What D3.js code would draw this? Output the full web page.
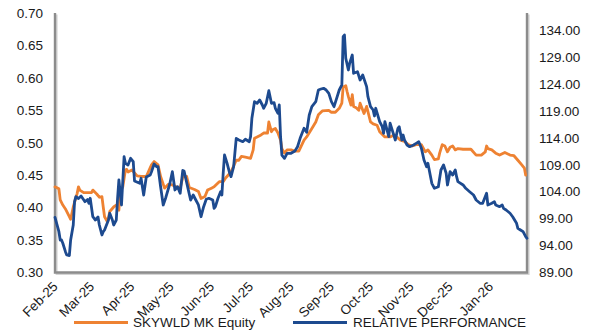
<!DOCTYPE html>
<html>
<head>
<meta charset="utf-8">
<script src="https://cdn.jsdelivr.net/npm/d3@7"></script>
<style>
  html, body { margin: 0; padding: 0; background: #fff; }
  svg { display: block; font-family: "Liberation Sans", Arial, sans-serif; }
</style>
</head>
<body>
<svg id="chart" width="596" height="333"></svg>
<script>
// SKYWLD MK Equity closing price (left axis, RM)
const skywldDates = [
  "2025-02-01","2025-02-04","2025-02-05","2025-02-07","2025-02-09","2025-02-12","2025-02-13","2025-02-15","2025-02-18","2025-02-19","2025-02-20","2025-02-23",
  "2025-03-01","2025-03-02","2025-03-05","2025-03-07","2025-03-09","2025-03-10","2025-03-11","2025-03-13","2025-03-14","2025-03-15","2025-03-18","2025-03-20","2025-03-22","2025-03-23","2025-03-25","2025-03-27","2025-03-28","2025-03-29",
  "2025-04-01","2025-04-05","2025-04-08","2025-04-12","2025-04-16","2025-04-18","2025-04-21","2025-04-23","2025-04-26","2025-04-29",
  "2025-05-02","2025-05-05","2025-05-08","2025-05-10","2025-05-13","2025-05-15","2025-05-19","2025-05-22","2025-05-24","2025-05-27","2025-05-29",
  "2025-06-01","2025-06-03","2025-06-07","2025-06-10","2025-06-12","2025-06-16","2025-06-20","2025-06-22","2025-06-24","2025-06-27",
  "2025-07-01","2025-07-03","2025-07-04","2025-07-06","2025-07-09","2025-07-11","2025-07-14","2025-07-15","2025-07-17","2025-07-18","2025-07-20","2025-07-22","2025-07-24","2025-07-25","2025-07-27","2025-07-29",
  "2025-08-01","2025-08-04","2025-08-07","2025-08-11","2025-08-13","2025-08-17","2025-08-20","2025-08-22","2025-08-25","2025-08-30",
  "2025-09-01","2025-09-04","2025-09-07","2025-09-09","2025-09-10","2025-09-12","2025-09-13","2025-09-14","2025-09-16","2025-09-17","2025-09-18","2025-09-20","2025-09-22","2025-09-23","2025-09-26","2025-09-28",
  "2025-10-01","2025-10-03","2025-10-06","2025-10-08","2025-10-12","2025-10-16","2025-10-19","2025-10-21","2025-10-24","2025-10-27","2025-10-30",
  "2025-11-02","2025-11-05","2025-11-09","2025-11-12","2025-11-14","2025-11-17","2025-11-19","2025-11-22","2025-11-23","2025-11-25","2025-11-27","2025-11-29",
  "2025-12-01","2025-12-03","2025-12-05","2025-12-07","2025-12-11","2025-12-17","2025-12-21","2025-12-25","2025-12-28","2025-12-29","2025-12-30",
  "2026-01-02","2026-01-05","2026-01-08","2026-01-12","2026-01-16","2026-01-19","2026-01-22","2026-01-25","2026-01-27","2026-01-28"
];
const skywldPrice = [
  0.432,0.429,0.412,0.404,0.398,0.386,0.382,0.401,0.422,0.432,0.427,0.423,
  0.423,0.427,0.421,0.416,0.417,0.401,0.386,0.379,0.384,0.394,0.401,0.404,0.396,0.425,0.432,0.458,0.459,0.455,
  0.458,0.449,0.448,0.448,0.466,0.471,0.466,0.448,0.430,0.436,
  0.435,0.432,0.430,0.447,0.448,0.431,0.428,0.425,0.414,0.417,0.427,
  0.430,0.432,0.440,0.440,0.446,0.455,0.473,0.473,0.479,0.478,
  0.476,0.489,0.507,0.509,0.512,0.515,0.515,0.532,0.517,0.520,0.522,0.515,0.504,0.491,0.484,0.489,
  0.489,0.487,0.487,0.504,0.509,0.522,0.532,0.543,0.549,0.550,
  0.547,0.547,0.553,0.561,0.586,0.588,0.579,0.571,0.558,0.574,0.556,0.554,0.550,0.561,0.545,0.556,
  0.532,0.529,0.527,0.517,0.509,0.509,0.512,0.509,0.504,0.502,0.497,
  0.495,0.497,0.497,0.486,0.489,0.481,0.474,0.475,0.484,0.497,0.495,0.486,
  0.493,0.495,0.489,0.491,0.490,0.490,0.481,0.481,0.486,0.495,0.491,
  0.489,0.484,0.481,0.485,0.481,0.480,0.473,0.466,0.461,0.450
];

// Relative performance index (right axis)
const relDates = [
  "2025-02-01","2025-02-04","2025-02-05","2025-02-06","2025-02-07","2025-02-09","2025-02-10","2025-02-12","2025-02-13","2025-02-15","2025-02-16","2025-02-17","2025-02-19","2025-02-21","2025-02-24","2025-02-26","2025-02-27","2025-02-28",
  "2025-03-02","2025-03-04","2025-03-06","2025-03-07","2025-03-09","2025-03-10","2025-03-11","2025-03-14","2025-03-15","2025-03-17","2025-03-18","2025-03-20","2025-03-21","2025-03-22","2025-03-24","2025-03-26","2025-03-27","2025-03-29","2025-03-31",
  "2025-04-02","2025-04-03","2025-04-07","2025-04-08","2025-04-10","2025-04-12","2025-04-15","2025-04-16","2025-04-18","2025-04-20","2025-04-21","2025-04-23","2025-04-25","2025-04-27","2025-04-30",
  "2025-05-02","2025-05-04","2025-05-06","2025-05-08","2025-05-10","2025-05-11","2025-05-14","2025-05-16","2025-05-18","2025-05-20","2025-05-22","2025-05-24","2025-05-26","2025-05-28","2025-05-30",
  "2025-06-02","2025-06-03","2025-06-04","2025-06-06","2025-06-08","2025-06-09","2025-06-10","2025-06-11","2025-06-13","2025-06-15","2025-06-16","2025-06-18","2025-06-20","2025-06-22","2025-06-25","2025-06-27","2025-06-30",
  "2025-07-01","2025-07-02","2025-07-04","2025-07-06","2025-07-08","2025-07-10","2025-07-11","2025-07-13","2025-07-15","2025-07-17","2025-07-19","2025-07-20","2025-07-22","2025-07-23","2025-07-24","2025-07-25","2025-07-27","2025-07-29",
  "2025-08-01","2025-08-04","2025-08-06","2025-08-08","2025-08-11","2025-08-13","2025-08-15","2025-08-17","2025-08-20","2025-08-22","2025-08-24","2025-08-26","2025-08-28","2025-08-30",
  "2025-09-01","2025-09-03","2025-09-05","2025-09-07","2025-09-09","2025-09-10","2025-09-11","2025-09-12","2025-09-14","2025-09-15","2025-09-17","2025-09-18","2025-09-21","2025-09-23","2025-09-25","2025-09-28","2025-09-29",
  "2025-10-01","2025-10-03","2025-10-04","2025-10-05","2025-10-08","2025-10-10","2025-10-11","2025-10-12","2025-10-13","2025-10-15","2025-10-16","2025-10-18","2025-10-20","2025-10-22","2025-10-23","2025-10-25","2025-10-26","2025-10-27","2025-10-29","2025-10-31",
  "2025-11-03","2025-11-05","2025-11-07","2025-11-09","2025-11-11","2025-11-13","2025-11-14","2025-11-17","2025-11-19","2025-11-22","2025-11-24","2025-11-26","2025-11-28","2025-11-29",
  "2025-12-01","2025-12-03","2025-12-05","2025-12-06","2025-12-07","2025-12-11","2025-12-13","2025-12-16","2025-12-19","2025-12-21","2025-12-24","2025-12-26","2025-12-29","2025-12-30",
  "2026-01-02","2026-01-04","2026-01-05","2026-01-08","2026-01-10","2026-01-11","2026-01-13","2026-01-16","2026-01-18","2026-01-21","2026-01-22","2026-01-24","2026-01-26","2026-01-28","2026-01-29"
];
const relPerf = [
  99.24,96.57,95.03,95.03,94.42,92.86,92.25,92.15,95.03,97.81,102.14,103.07,102.73,103.20,102.14,102.55,101.84,102.77,
  99.35,98.74,99.30,97.81,95.96,96.57,96.89,98.74,99.99,98.74,97.81,98.74,102.77,106.16,101.53,110.49,109.26,108.95,110.19,
  109.56,105.98,105.55,106.48,103.38,106.72,107.09,107.70,109.13,108.63,108.63,104.92,101.53,102.92,105.42,
  107.70,104.31,104.92,103.70,107.93,107.83,104.62,102.45,103.38,102.45,101.53,99.35,101.21,102.58,102.77,
  102.45,100.91,101.21,102.77,103.99,103.38,107.41,110.80,109.26,107.41,106.78,108.63,113.90,113.59,113.27,113.72,113.27,
  114.20,117.61,120.69,120.40,121.01,120.08,119.47,120.40,122.73,120.40,120.51,119.47,118.54,120.08,114.20,110.80,110.19,111.12,
  111.12,111.55,112.34,113.90,115.76,115.02,118.23,119.77,120.69,122.86,123.05,123.18,122.86,122.25,
  120.69,119.77,121.32,122.86,123.79,132.75,133.07,128.75,126.58,127.82,129.36,125.96,126.26,124.72,125.65,123.48,121.62,
  119.77,119.15,118.04,119.47,116.98,116.05,114.83,116.98,116.05,114.20,116.69,115.13,113.59,115.76,116.05,113.59,114.51,113.59,112.66,112.34,
  112.66,112.97,113.27,112.05,109.88,108.63,109.26,105.55,104.62,104.92,108.02,108.95,107.41,105.24,
  107.70,107.09,108.02,106.78,105.85,105.24,104.62,103.99,103.38,102.45,101.84,101.84,103.70,101.53,
  101.84,102.14,101.53,101.21,101.53,100.91,100.60,99.99,99.35,98.13,97.20,96.89,96.57,95.64,95.35
];

const priceTicks = [0.30, 0.35, 0.40, 0.45, 0.50, 0.55, 0.60, 0.65, 0.70];
const perfTicks = [89, 94, 99, 104, 109, 114, 119, 124, 129, 134];
const seriesNames = ["SKYWLD MK Equity", "RELATIVE PERFORMANCE"];
const seriesColors = ["#ee8232", "#1d4a8f"];

const svg = d3.select("#chart");
const plot = { left: 55, right: 527, top: 13, bottom: 272.5 };
const parseDate = d3.timeParse("%Y-%m-%d");
const textColor = "#1a1a1a";
const fontSize = "13.5px";

const x = d3.scaleTime()
  .domain([new Date(2025, 1, 1), new Date(2026, 0, 29)])
  .range([plot.left, plot.right]);
const yLeft = d3.scaleLinear().domain([0.30, 0.70]).range([plot.bottom, plot.top]);
const yRight = d3.scaleLinear().domain([89, 137.15]).range([plot.bottom, plot.top]);

// frame: soft shadow first, then the grey axis lines
const frame = svg.append("g");
const framePath = `M${plot.left},${plot.top}V${plot.bottom}H${plot.right}V${plot.top}`;
frame.append("path").attr("d", framePath).attr("transform", "translate(1.6,1.6)")
  .attr("fill", "none").attr("stroke", "#d4d4d4").attr("stroke-width", 2);
frame.append("path").attr("d", framePath)
  .attr("fill", "none").attr("stroke", "#8c8c8c").attr("stroke-width", 2.4);

// left axis
const axL = svg.append("g").attr("transform", `translate(${plot.left},0)`)
  .call(d3.axisLeft(yLeft).tickValues(priceTicks).tickFormat(d3.format(".2f")).tickSize(0).tickPadding(12));
axL.select(".domain").remove();

// right axis
const axR = svg.append("g").attr("transform", `translate(${plot.right},0)`)
  .call(d3.axisRight(yRight).tickValues(perfTicks).tickFormat(d3.format(".2f")).tickSize(0).tickPadding(12));
axR.select(".domain").remove();

// bottom axis, month labels slanted
const axB = svg.append("g").attr("transform", `translate(0,${plot.bottom})`)
  .call(d3.axisBottom(x).ticks(d3.timeMonth.every(1)).tickFormat(d3.timeFormat("%b-%y")).tickSize(0));
axB.select(".domain").remove();
axB.selectAll(".tick text")
  .attr("x", 0).attr("y", 0).attr("dy", 0)
  .attr("text-anchor", "end")
  .attr("transform", "translate(3,15) rotate(-45)");

svg.selectAll(".tick text").attr("fill", textColor)
  .style("font-size", fontSize).style("font-family", '"Liberation Sans", Arial, sans-serif');

// series lines
const priceSeries = skywldDates.map((d, i) => ({ date: parseDate(d), value: skywldPrice[i] }));
const perfSeries = relDates.map((d, i) => ({ date: parseDate(d), value: relPerf[i] }));

const priceLine = d3.line().x(d => x(d.date)).y(d => yLeft(d.value));
const perfLine = d3.line().x(d => x(d.date)).y(d => yRight(d.value));

svg.append("path").datum(priceSeries).attr("d", priceLine)
  .attr("fill", "none").attr("stroke", seriesColors[0]).attr("stroke-width", 2.8)
  .attr("stroke-linejoin", "round").attr("stroke-linecap", "round");
svg.append("path").datum(perfSeries).attr("d", perfLine)
  .attr("fill", "none").attr("stroke", seriesColors[1]).attr("stroke-width", 2.8)
  .attr("stroke-linejoin", "round").attr("stroke-linecap", "round");

// legend
const legendItems = [
  { x1: 74, x2: 128, tx: 133 },
  { x1: 293, x2: 347, tx: 353 }
];
const legendY = 322.5;
const legend = svg.append("g");
legendItems.forEach((it, i) => {
  legend.append("line").attr("x1", it.x1).attr("x2", it.x2)
    .attr("y1", legendY).attr("y2", legendY)
    .attr("stroke", seriesColors[i]).attr("stroke-width", 2.8);
  legend.append("text").attr("x", it.tx).attr("y", legendY).attr("dy", "0.35em")
    .attr("fill", textColor).style("font-size", fontSize)
    .text(seriesNames[i]);
});
</script>
</body>
</html>
